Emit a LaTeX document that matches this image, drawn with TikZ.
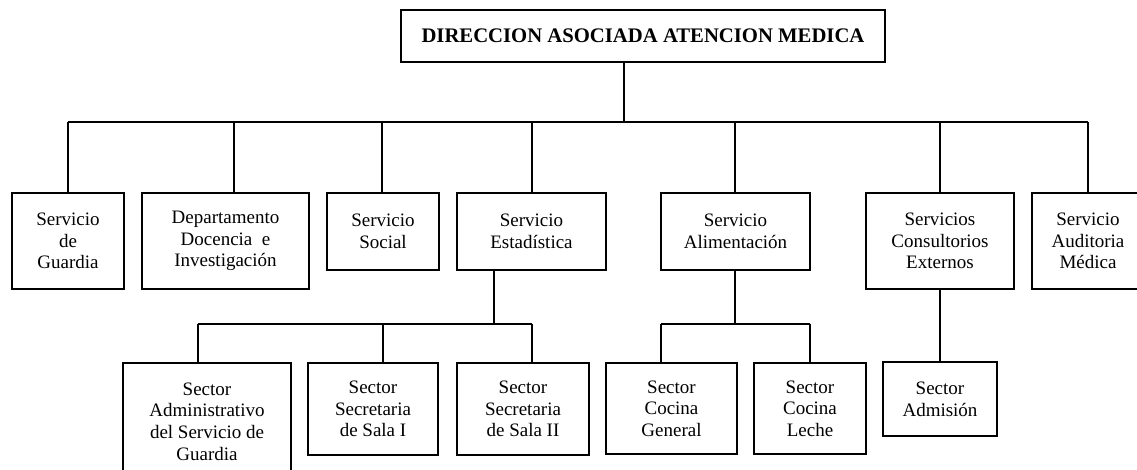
\documentclass[tikz,border=0pt]{standalone}
\usepackage{fontspec}
\setmainfont{Liberation Serif}
\begin{document}
\begin{tikzpicture}[x=1pt,y=-1pt,
  box/.style={draw,line width=1.4pt,inner sep=0pt,align=center,
    font=\fontsize{19}{21.7}\selectfont},
  link/.style={line width=1.4pt}]
\useasboundingbox (0,0) rectangle (1137,469);
\clip (0,0) rectangle (1137,469);
\fill[white] (0,0) rectangle (1137,469);
% level 0
\node[box,minimum width=484pt,minimum height=52pt,font=\fontsize{20.7}{24}\selectfont\bfseries] (top) at (643,36) {DIRECCION ASOCIADA ATENCION MEDICA};
% level 1
\node[box,minimum width=112pt,minimum height=96pt] (guardia) at (68,241) {Servicio\\de\\Guardia};
\node[box,minimum width=167pt,minimum height=96pt] (docencia) at (225.5,241) {Departamento\\Docencia\ \ e\\Investigación};
\node[box,minimum width=112pt,minimum height=77pt] (social) at (383,231.5) {Servicio\\Social};
\node[box,minimum width=149pt,minimum height=77pt] (estad) at (531.5,231.5) {Servicio\\Estadística};
\node[box,minimum width=149pt,minimum height=77pt] (alim) at (735.5,231.5) {Servicio\\Alimentación};
\node[box,minimum width=148pt,minimum height=96pt] (consult) at (940,241) {Servicios\\Consultorios\\Externos};
\node[box,minimum width=112pt,minimum height=96pt] (audit) at (1088,241) {Servicio\\Auditoria\\Médica};
% level 2
\node[box,minimum width=168pt,minimum height=117pt] (admin) at (207,421.5) {Sector\\Administrativo\\del Servicio de\\Guardia};
\node[box,minimum width=130pt,minimum height=92pt] (sala1) at (373,409) {Sector\\Secretaria\\de Sala I};
\node[box,minimum width=132pt,minimum height=92pt] (sala2) at (523,409) {Sector\\Secretaria\\de Sala II};
\node[box,minimum width=131pt,minimum height=91pt] (cocg) at (671.5,408.5) {Sector\\Cocina\\General};
\node[box,minimum width=112pt,minimum height=91pt] (cocl) at (810,408.5) {Sector\\Cocina\\Leche};
\node[box,minimum width=114pt,minimum height=74pt] (admis) at (940,399) {Sector\\Admisión};
% bus points
\coordinate (b0) at (624,122);
\coordinate (dg) at (68,122);
\coordinate (dd) at (234,122);
\coordinate (ds) at (382,122);
\coordinate (de) at (532,122);
\coordinate (da) at (735,122);
\coordinate (dc) at (940,122);
\coordinate (du) at (1088,122);
\coordinate (b1) at (494,324);
\coordinate (e1) at (198,324);
\coordinate (e2) at (383,324);
\coordinate (e3) at (532,324);
\coordinate (b2) at (735,324);
\coordinate (a1) at (661,324);
\coordinate (a2) at (810,324);
% connectors level 0-1
\draw[link] (top.south -| b0) -- (b0);
\draw[link] (dg) -- (du);
\draw[link] (dg) -- (dg |- guardia.north);
\draw[link] (dd) -- (dd |- docencia.north);
\draw[link] (ds) -- (ds |- social.north);
\draw[link] (de) -- (de |- estad.north);
\draw[link] (da) -- (da |- alim.north);
\draw[link] (dc) -- (dc |- consult.north);
\draw[link] (du) -- (du |- audit.north);
% Estadistica
\draw[link] (estad.south -| b1) -- (b1);
\draw[link] (e1) -- (e3);
\draw[link] (e1) -- (e1 |- admin.north);
\draw[link] (e2) -- (e2 |- sala1.north);
\draw[link] (e3) -- (e3 |- sala2.north);
% Alimentacion
\draw[link] (alim.south -| b2) -- (b2);
\draw[link] (a1) -- (a2);
\draw[link] (a1) -- (a1 |- cocg.north);
\draw[link] (a2) -- (a2 |- cocl.north);
% Consultorios
\draw[link] (consult.south) -- (admis.north);
\end{tikzpicture}
\end{document}
